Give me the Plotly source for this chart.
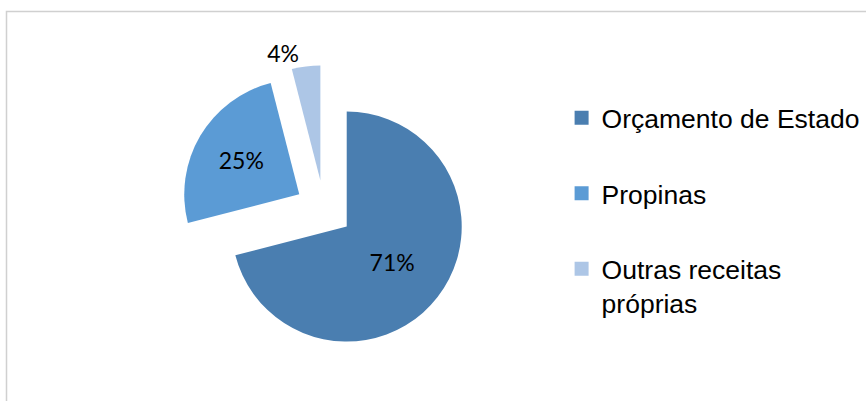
import plotly.graph_objects as go

# Fontes de receita
categorias = ["Orçamento de Estado", "Propinas", "Outras receitas próprias"]
legenda_txt = ["Orçamento de Estado", "Propinas", "Outras receitas<br>próprias"]
valores = [71, 25, 4]
cores = ["#4A7EB0", "#5B9BD5", "#ADC6E6"]
posicoes_texto = ["inside", "inside", "outside"]

W, H = 866, 401

fig = go.Figure()

fig.add_trace(go.Pie(
    labels=categorias,
    values=valores,
    sort=False,
    direction="clockwise",
    rotation=0,
    pull=[0.25] * len(valores),
    marker=dict(colors=cores, line=dict(width=0)),
    texttemplate="%{percent:.0%}",
    textposition=posicoes_texto,
    insidetextorientation="horizontal",
    textfont=dict(family="Lato", size=23, color="#000000"),
    insidetextfont=dict(family="Lato", size=23, color="#000000"),
    outsidetextfont=dict(family="Lato", size=23, color="#000000"),
    hoverinfo="label+percent",
    showlegend=False,
    domain=dict(x=[(324 - 150) / W, (324 + 150) / W],
                y=[1 - 352.75 / H, 1 - 65.25 / H]),
))

# Legenda com espaçamento largo entre entradas
for i, (nome, cor) in enumerate(zip(legenda_txt, cores)):
    fig.add_trace(go.Scatter(
        x=[None], y=[None], mode="markers", name=nome,
        legendgroup=f"g{i}",
        marker=dict(symbol="square", size=14, color=cor),
        hoverinfo="skip",
    ))

fig.update_layout(
    width=W, height=H,
    margin=dict(l=0, r=0, t=0, b=0, autoexpand=False),
    paper_bgcolor="#FFFFFF",
    plot_bgcolor="#FFFFFF",
    xaxis=dict(visible=False),
    yaxis=dict(visible=False),
    legend=dict(
        x=0.6485, y=1 - 94 / H, xanchor="left", yanchor="top",
        font=dict(family="Liberation Sans", size=26.5, color="#000000"),
        tracegroupgap=38,
        valign="top",
        itemclick=False, itemdoubleclick=False,
        bgcolor="rgba(0,0,0,0)",
    ),
    shapes=[dict(
        type="rect", xref="paper", yref="paper",
        x0=6.5 / W, x1=1.05, y0=-0.05, y1=1 - 11.5 / H,
        line=dict(color="#D0D0D0", width=1.5),
        fillcolor="rgba(0,0,0,0)", layer="below",
    )],
)

fig.write_html("out.html")
